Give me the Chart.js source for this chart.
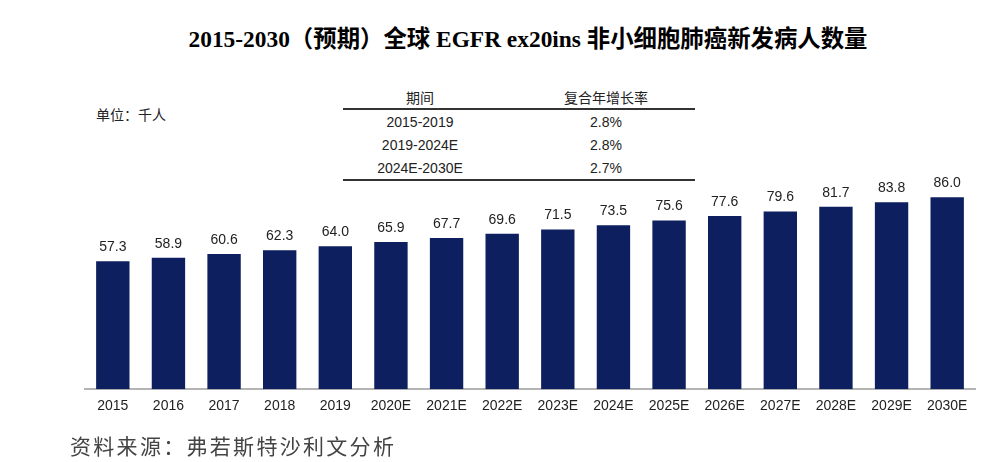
<!DOCTYPE html>
<html>
<head>
<meta charset="utf-8">
<script src="https://cdn.jsdelivr.net/npm/chart.js@4"></script>
<style>
  body { margin: 0; background: #fff; width: 1000px; height: 462px; overflow: hidden; position: relative; font-family: "Liberation Sans", Arial, "Noto Sans CJK SC", sans-serif; }
  #titulo { position: absolute; left: 0; width: 1000px; top: 20px; text-align: center; padding-left: 56px; box-sizing: border-box;
            font-family: "Liberation Serif", "Noto Sans CJK SC", serif; font-weight: bold; font-size: 23.4px; color: #000; }
  #unidade { position: absolute; left: 96px; top: 104px; font-size: 14px; color: #222; }
  #fonte { position: absolute; left: 70px; top: 430px; font-family: "Noto Sans CJK SC", sans-serif; font-size: 21px; color: #444; letter-spacing: 2.3px; }
  #tabela { position: absolute; left: 343px; top: 86px; width: 352px; border-collapse: collapse; font-size: 14px; color: #222; }
  #tabela th { font-weight: normal; height: 22px; border-bottom: 2px solid #333; padding: 0; }
  #tabela td { text-align: center; height: 23px; padding: 0; }
  #tabela .c1 { width: 154px; }
  #tabela .c2 { padding-left: 20px; }
  #tabela tr:last-child td { border-bottom: 2px solid #333; }
  #grafico_wrap { position: absolute; left: 0; top: 0; width: 1000px; height: 462px; }
</style>
</head>
<body>
<div id="titulo">2015-2030（预期）全球 EGFR ex20ins 非小细胞肺癌新发病人数量</div>
<div id="unidade">单位：千人</div>
<table id="tabela"></table>
<div id="grafico_wrap"><canvas id="grafico"></canvas></div>
<div id="fonte">资料来源：弗若斯特沙利文分析</div>
<script>
var anos = ["2015", "2016", "2017", "2018", "2019", "2020E", "2021E", "2022E", "2023E", "2024E", "2025E", "2026E", "2027E", "2028E", "2029E", "2030E"];
var pacientes = [57.3, 58.9, 60.6, 62.3, 64.0, 65.9, 67.7, 69.6, 71.5, 73.5, 75.6, 77.6, 79.6, 81.7, 83.8, 86.0];
var periodos = ["2015-2019", "2019-2024E", "2024E-2030E"];
var taxas = ["2.8%", "2.8%", "2.7%"];
var cabecalho = ["期间", "复合年增长率"];

function monta_tabela(){
    var t = document.getElementById('tabela');
    var html = '<tr><th class="c1">' + cabecalho[0] + '</th><th class="c2">' + cabecalho[1] + '</th></tr>';
    for (var i = 0; i < periodos.length; i++) {
        html += '<tr><td class="c1">' + periodos[i] + '</td><td class="c2">' + taxas[i] + '</td></tr>';
    }
    t.innerHTML = html;
}

// rotulos em cima das barras
const rotulos = {
    id: 'rotulos',
    afterDatasetsDraw(chart) {
        const ctx = chart.ctx;
        const meta = chart.getDatasetMeta(0);
        ctx.save();
        ctx.font = '14px "Liberation Sans", Arial, sans-serif';
        ctx.fillStyle = '#222';
        ctx.textAlign = 'center';
        ctx.textBaseline = 'bottom';
        meta.data.forEach(function(barra, i){
            ctx.fillText(pacientes[i].toFixed(1), barra.x, barra.y - 7);
        });
        ctx.restore();
    }
};

function renderiza_grafico(){
    const ctx = document.getElementById('grafico').getContext('2d');
    new Chart(ctx, {
        type: 'bar',
        data: {
            labels: anos,
            datasets: [{
                data: pacientes,
                backgroundColor: '#0d1f5e',
                categoryPercentage: 1.0,
                barPercentage: 0.6,
            }]
        },
        options: {
            responsive: true,
            maintainAspectRatio: false,
            animation: false,
            layout: { padding: { left: 85, right: 25, top: 166, bottom: 38 } },
            plugins: { legend: { display: false }, tooltip: { enabled: false } },
            scales: {
                x: {
                    grid: { display: false, drawTicks: false },
                    border: { display: true, color: '#b4b4b4', width: 2 },
                    ticks: { color: '#222', font: { size: 14, family: '"Liberation Sans", Arial, sans-serif' }, padding: 9, maxRotation: 0 }
                },
                y: { display: false, min: 0, max: 100 }
            }
        },
        plugins: [rotulos]
    });
}

window.onload = function () {
    monta_tabela();
    renderiza_grafico();
};
</script>
</body>
</html>
